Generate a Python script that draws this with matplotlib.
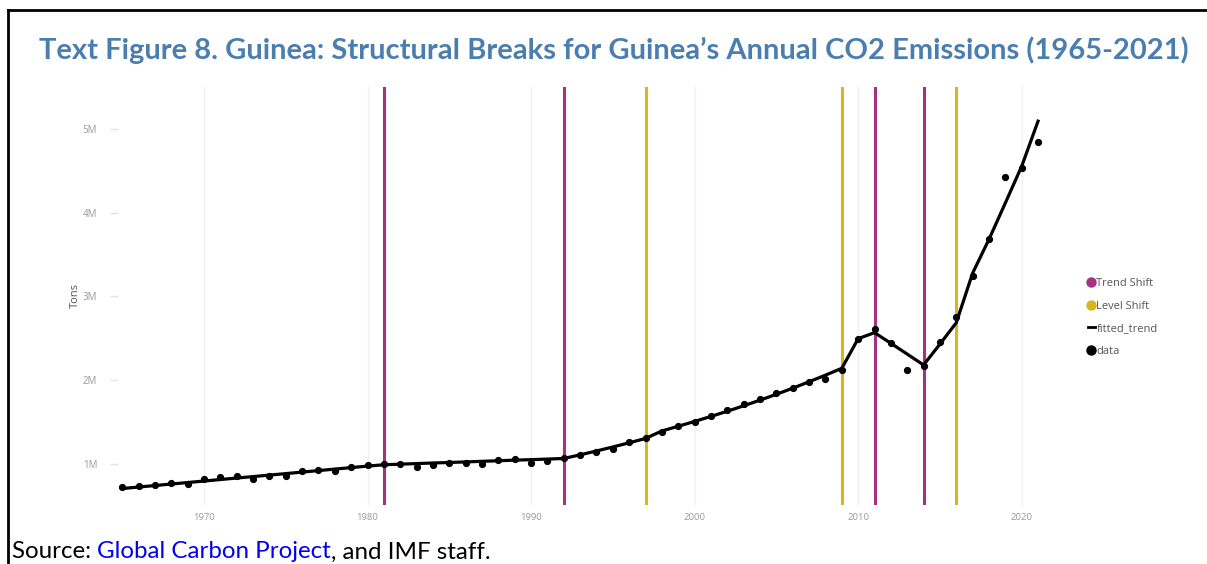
import matplotlib
matplotlib.use("Agg")
import matplotlib.pyplot as plt
from matplotlib.lines import Line2D
from matplotlib.ticker import FuncFormatter

years = list(range(1965, 2022))
data_mt = [0.715, 0.734, 0.739, 0.763, 0.754, 0.814, 0.834, 0.850, 0.810, 0.854,
           0.850, 0.906, 0.922, 0.906, 0.962, 0.978, 0.998, 0.994, 0.962, 0.982,
           1.002, 1.002, 0.998, 1.042, 1.058, 1.010, 1.034, 1.070, 1.106, 1.138,
           1.178, 1.253, 1.301, 1.377, 1.445, 1.501, 1.573, 1.637, 1.713, 1.776,
           1.840, 1.904, 1.980, 2.008, 2.120, 2.495, 2.607, 2.440, 2.120, 2.170,
           2.459, 2.750, 3.245, 3.690, 4.435, 4.535, 4.846]
fitted_mt = [0.700, 0.718, 0.736, 0.754, 0.772, 0.790, 0.808, 0.826, 0.843, 0.861,
             0.879, 0.897, 0.915, 0.933, 0.951, 0.969, 0.985, 0.992, 0.999, 1.006,
             1.012, 1.019, 1.026, 1.033, 1.040, 1.046, 1.053, 1.060, 1.104, 1.150,
             1.198, 1.248, 1.300, 1.390, 1.446, 1.504, 1.564, 1.626, 1.691, 1.759,
             1.829, 1.902, 1.979, 2.058, 2.140, 2.495, 2.567, 2.440, 2.310, 2.180,
             2.430, 2.686, 3.280, 3.685, 4.120, 4.560, 5.100]
trend_shift_years = [1981, 1992, 2011, 2014]
level_shift_years = [1997, 2009, 2016]
y_ticks_m = [1, 2, 3, 4, 5]
x_ticks = [1970, 1980, 1990, 2000, 2010, 2020]

title = "Text Figure 8. Guinea: Structural Breaks for Guinea\u2019s Annual CO2 Emissions (1965-2021)"
purple = "#A5327E"
yellow = "#D6B81E"

W, H = 1207, 564
fig = plt.figure(figsize=(W / 100, H / 100), dpi=100)
fig.patch.set_facecolor("white")

# axes placement in pixels
ax_l, ax_r, ax_t, ax_b = 118, 1050, 87, 505
ax = fig.add_axes([ax_l / W, 1 - ax_b / H, (ax_r - ax_l) / W, (ax_b - ax_t) / H])
ppy = (1021.7 - 204) / 50.0
ax.set_xlim(1970 - (204 - ax_l) / ppy, 2020 + (ax_r - 1021.7) / ppy)
ax.set_ylim((547 - ax_b) / 83.5 * 1e6, (547 - ax_t) / 83.5 * 1e6)

for s in ax.spines.values():
    s.set_visible(False)
ax.set_xticks(x_ticks)
ax.set_yticks([v * 1e6 for v in y_ticks_m])
ax.yaxis.set_major_formatter(FuncFormatter(lambda v, p: f"{v/1e6:.0f}M"))
ax.grid(axis="x", color="#f0f0f0", linewidth=1)
ax.tick_params(axis="x", length=0, pad=6, labelsize=6.8, labelcolor="#999999")
ax.tick_params(axis="y", length=6, color="#e4e4e4", width=1, pad=9,
               labelsize=7, labelcolor="#999999")
for lab in ax.get_xticklabels() + ax.get_yticklabels():
    lab.set_family("Open Sans")

for yr in trend_shift_years:
    ax.axvline(yr, color=purple, linewidth=2.2, zorder=2)
for yr in level_shift_years:
    ax.axvline(yr, color=yellow, linewidth=2.2, zorder=2)

ax.plot(years, [v * 1e6 for v in fitted_mt], color="black", linewidth=2.3, zorder=3,
        solid_joinstyle="miter")
ax.plot(years, [v * 1e6 for v in data_mt], "o", color="black", markersize=4.2,
        zorder=4, linestyle="none")

fig.text(75 / W, 1 - 296 / H, "Tons", rotation=90, ha="center", va="center",
         fontsize=8, color="#555555", family="Open Sans")

# legend
handles = [
    Line2D([], [], marker="o", color=purple, linestyle="none", markersize=6.5),
    Line2D([], [], marker="o", color=yellow, linestyle="none", markersize=6.5),
    Line2D([], [], color="black", linewidth=2),
    Line2D([], [], marker="o", color="black", linestyle="none", markersize=6.5),
]
leg = fig.legend(handles, ["Trend Shift", "Level Shift", "fitted_trend", "data"],
                 loc="upper left", bbox_to_anchor=(1078 / W, 1 - 268 / H),
                 frameon=False, handlelength=0.6, handletextpad=0.15,
                 labelspacing=1.05, prop={"family": "Open Sans", "size": 8})
for t in leg.get_texts():
    t.set_color("#555555")

# title fitted to width
fig.canvas.draw()
r = fig.canvas.get_renderer()
tt = fig.text(614 / W, 1 - 50 / H, title, ha="center", va="center", fontsize=18,
              fontweight="bold", color="#4A7EAF", family="Lato")
w = tt.get_window_extent(r).width
tt.set_fontsize(18 * 1152 / w)

# source line, multi coloured
parts = [("Source: ", "black"), ("Global Carbon Project", "#0000EE"),
         (", and IMF staff.", "black")]
fs = 14
def draw_source(fs):
    objs = []
    x = 12
    for txt, col in parts:
        t = fig.text(x / W, 1 - 552 / H, txt, ha="left", va="center", fontsize=fs,
                     color=col, family="Lato")
        objs.append(t)
        x += t.get_window_extent(r).width
    return objs, x - 12
objs, tw = draw_source(fs)
for o in objs:
    o.remove()
objs, tw = draw_source(fs * 481 / tw)

# border (top and left)
fig.add_artist(Line2D([8 / W, 8 / W], [0, 1 - 10 / H], color="black", linewidth=2,
                      transform=fig.transFigure))
fig.add_artist(Line2D([8 / W, 1], [1 - 10 / H, 1 - 10 / H], color="black",
                      linewidth=2, transform=fig.transFigure))

fig.savefig("out.png", dpi=100, facecolor="white")
